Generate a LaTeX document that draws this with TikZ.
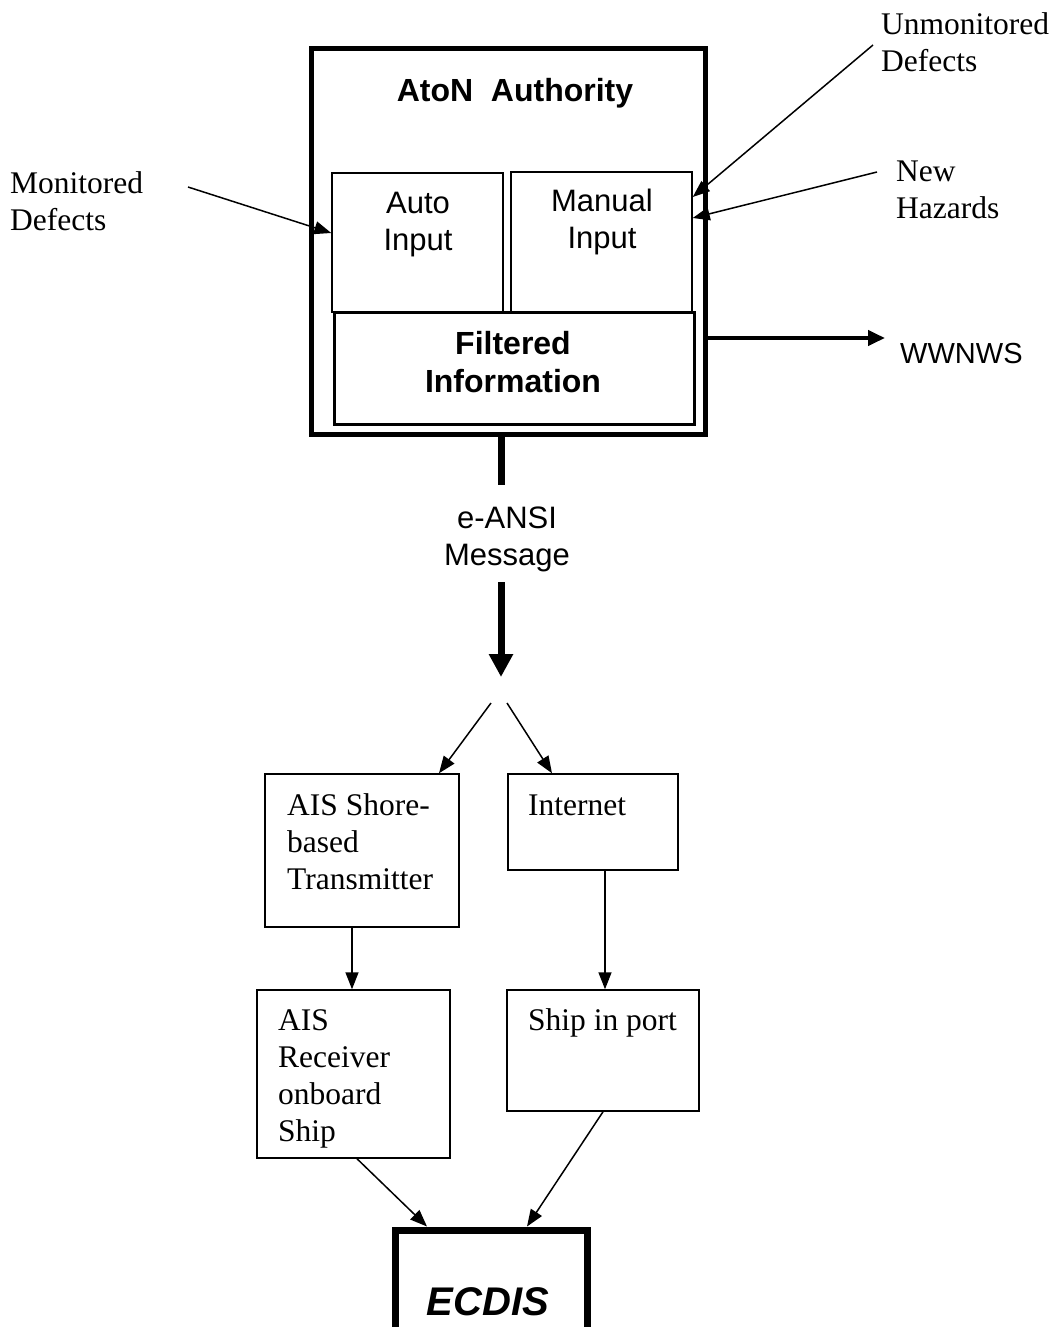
\documentclass[tikz,border=0pt]{standalone}
\usepackage{fontspec}
\setmainfont{Liberation Serif}
\setsansfont{Liberation Sans}
\usetikzlibrary{arrows.meta,calc}
\begin{document}
\begin{tikzpicture}[x=1pt,y=-1pt,
  box/.style={draw,line width=1.5pt,inner sep=0pt},
  sl/.style={font=\sffamily\fontsize{31}{37}\selectfont,inner sep=0pt,align=center,anchor=base},
  sbl/.style={font=\sffamily\bfseries\fontsize{32}{38}\selectfont,inner sep=0pt,align=center,anchor=base},
  rl/.style={font=\fontsize{31.5}{37}\selectfont,inner sep=0pt,align=left,anchor=base west},
  arr/.style={-{Triangle[length=17pt,width=13pt]},line width=1.5pt},
]
\fill[white] (0,0) rectangle (1057,1327);
\useasboundingbox (0,0) rectangle (1057,1327);

% helper coordinates
\coordinate (yMon) at (0,233);
\coordinate (yUnm) at (0,197);
\coordinate (yNew) at (0,218);
\coordinate (monS) at (188,187);
\coordinate (unmS) at (873,45);
\coordinate (newS) at (877,172);
\coordinate (wwTip) at (885,338);
\coordinate (barEnd) at (501,485);
\coordinate (msgS) at (501,582);
\coordinate (msgE) at (501,677);
\coordinate (spL) at (491,703);
\coordinate (spR) at (507,703);
\coordinate (x439) at (439,0);
\coordinate (x552) at (552,0);
\coordinate (x352) at (352,0);
\coordinate (x605) at (605,0);
\coordinate (x357) at (357,0);
\coordinate (x603) at (603,0);
\coordinate (x427) at (427,0);
\coordinate (x527) at (527,0);

% AtoN authority
\node[draw,line width=5pt,inner sep=0pt,minimum width=394pt,minimum height=385pt] (auth) at (508,241.5) {};
\node[sbl] (title) at (515,102) {AtoN~~Authority};
\node[box,minimum width=171pt,minimum height=139pt] (auto) at (417.5,242.5) {};
\node[sl] (autot) at (418,250) {Auto\\Input};
\node[box,minimum width=181pt,minimum height=140pt] (manual) at (601.5,242) {};
\node[sl] (manualt) at (602,248) {Manual\\Input};
\node[draw,fill=white,line width=3pt,inner sep=0pt,minimum width=360pt,minimum height=112pt] (filt) at (514,368) {};
\node[sbl] (filtt) at (513,392) {Filtered\\Information};

% side labels
\node[rl] (mon) at (10,230) {Monitored\\Defects};
\node[rl] (unmon) at (881,72) {Unmonitored\\Defects};
\node[rl] (newh) at (896,218) {New\\Hazards};
\node[font=\sffamily\fontsize{29}{35}\selectfont,inner sep=0pt,anchor=base west] (ww) at (900,363) {WWNWS};

\draw[arr] (monS) -- (auto.west |- yMon);
\draw[arr] (unmS) -- (manual.east |- yUnm);
\draw[arr] (newS) -- (manual.east |- yNew);
\draw[line width=4pt,-{Triangle[length=17pt,width=15pt]}] (auth.east |- wwTip) -- (wwTip);

% message
\draw[line width=7pt] (auth.south -| barEnd) -- (barEnd);
\node[sl] (msg) at (507,565) {e-ANSI\\Message};
\draw[line width=7pt,-{Triangle[length=23pt,width=23pt]}] (msgS) -- (msgE);

% lower boxes
\node[box,minimum width=194pt,minimum height=153pt] (shore) at (362,850.5) {};
\node[rl] (shoret) at (287,889) {AIS Shore-\\based\\Transmitter};
\node[box,minimum width=170pt,minimum height=96pt] (inet) at (593,822) {};
\node[rl] (inett) at (528,815) {Internet};
\node[box,minimum width=193pt,minimum height=168pt] (recv) at (353.5,1074) {};
\node[rl] (recvt) at (278,1141) {AIS\\Receiver\\onboard\\Ship};
\node[box,minimum width=192pt,minimum height=121pt] (port) at (603,1050.5) {};
\node[rl] (portt) at (528,1030) {Ship in port};
\node[draw,line width=7pt,inner sep=0pt,minimum width=192pt,minimum height=140pt] (ecdis) at (491,1300) {};
\node[font=\sffamily\bfseries\itshape\fontsize{40}{48}\selectfont,inner sep=0pt,anchor=base] (ecdist) at (488,1315) {ECDIS};

\draw[arr] (spL) -- (shore.north -| x439);
\draw[arr] (spR) -- (inet.north -| x552);
\draw[arr] (shore.south -| x352) -- (recv.north -| x352);
\draw[arr] (inet.south -| x605) -- (port.north -| x605);
\draw[arr] (recv.south -| x357) -- (ecdis.north -| x427);
\draw[arr] (port.south -| x603) -- (ecdis.north -| x527);
\end{tikzpicture}
\end{document}
